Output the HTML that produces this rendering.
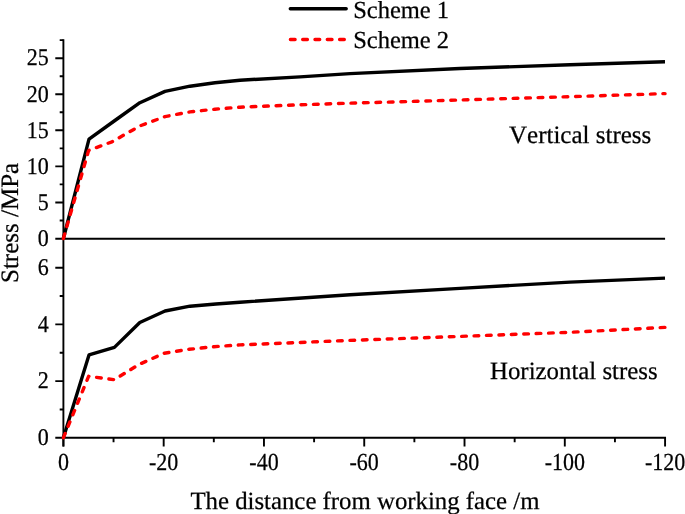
<!DOCTYPE html>
<html><head><meta charset="utf-8"><style>
html,body{margin:0;padding:0;background:#fff;}
body{width:685px;height:514px;overflow:hidden;font-family:"Liberation Serif", serif;}
svg{display:block;}
</style></head><body>
<svg width="685" height="514" viewBox="0 0 685 514">
<rect width="685" height="514" fill="#fff"/>
<path d="M63.4,39.2 V446.5 M62.449999999999996,437.8 H666.0300000000001" stroke="#000" stroke-width="1.9" fill="none"/>
<path d="M55.3,238.7 H665.08" stroke="#000" stroke-width="2.1" fill="none"/>
<path d="M55.3,202.44 H63.4 M55.3,166.38 H63.4 M55.3,130.32 H63.4 M55.3,94.26 H63.4 M55.3,58.20 H63.4 M59.7,220.47 H63.4 M59.7,184.41 H63.4 M59.7,148.35 H63.4 M59.7,112.29 H63.4 M59.7,76.23 H63.4 M59.7,40.17 H63.4 M55.3,437.80 H63.4 M55.3,381.10 H63.4 M55.3,324.40 H63.4 M55.3,267.70 H63.4 M59.7,409.45 H63.4 M59.7,352.75 H63.4 M59.7,296.05 H63.4 M63.40,437.8 V446.5 M163.68,437.8 V446.5 M263.96,437.8 V446.5 M364.24,437.8 V446.5 M464.52,437.8 V446.5 M564.80,437.8 V446.5 M665.08,437.8 V446.5 M113.54,437.8 V442.3 M213.82,437.8 V442.3 M314.10,437.8 V442.3 M414.38,437.8 V442.3 M514.66,437.8 V442.3 M614.94,437.8 V442.3" stroke="#000" stroke-width="1.9" fill="none"/>
<polyline points="63.4,238.5 89.0,139.2 114.2,121.0 139.9,102.7 165.0,91.4 190.0,86.2 215.0,82.7 240.0,80.2 300.0,76.9 350.0,73.6 460.0,68.5 570.0,64.8 665.0,61.8" stroke="#000" stroke-width="3.4" fill="none" stroke-linejoin="round"/>
<polyline points="63.4,437.8 89.0,354.9 114.4,347.4 139.8,322.5 165.0,311.0 190.0,306.2 215.9,304.0 240.0,302.2 350.0,294.7 460.0,288.4 570.0,282.1 665.0,278.1" stroke="#000" stroke-width="3.4" fill="none" stroke-linejoin="round"/>
<polyline points="63.4,238.5 88.6,150.5 112.0,141.8 139.9,125.9 165.0,116.6 190.0,111.9 215.0,109.2 240.0,107.2 300.0,104.8 350.0,103.2 460.0,100.0 570.0,96.7 665.0,93.6" stroke="#f00" stroke-width="3.4" fill="none" stroke-dasharray="4.7 7.785" stroke-linecap="round" stroke-linejoin="round"/>
<polyline points="63.4,437.8 88.6,376.3 114.2,379.7 139.2,364.4 164.0,353.3 189.0,349.3 214.0,346.7 240.0,344.9 350.0,340.4 460.0,336.4 570.0,332.3 665.0,327.4" stroke="#f00" stroke-width="3.4" fill="none" stroke-dasharray="4.7 7.72" stroke-linecap="round" stroke-linejoin="round"/>
<path d="M290.3,8.8 H346.2" stroke="#000" stroke-width="3.4" stroke-linecap="round"/>
<path d="M290.4,39.5 H345.0" stroke="#f00" stroke-width="3.4" stroke-dasharray="4.7 7.6" stroke-linecap="round"/>
<g font-family='"Liberation Serif", serif' fill="#000" stroke="#000" stroke-width="0.25" opacity="0.999" text-rendering="geometricPrecision" style="font-kerning:none"><text x="353.2" y="17.5" font-size="24.5" text-anchor="start" >Scheme 1</text><text x="353.2" y="48.4" font-size="24.5" text-anchor="start" >Scheme 2</text><text transform="translate(48.7,245.7) scale(0.917,1)" font-size="24" text-anchor="end">0</text><text transform="translate(48.7,209.6) scale(0.917,1)" font-size="24" text-anchor="end">5</text><text transform="translate(48.7,173.6) scale(0.917,1)" font-size="24" text-anchor="end">10</text><text transform="translate(48.7,137.5) scale(0.917,1)" font-size="24" text-anchor="end">15</text><text transform="translate(48.7,101.5) scale(0.917,1)" font-size="24" text-anchor="end">20</text><text transform="translate(48.7,65.4) scale(0.917,1)" font-size="24" text-anchor="end">25</text><text transform="translate(48.7,445.0) scale(0.917,1)" font-size="24" text-anchor="end">0</text><text transform="translate(48.7,388.3) scale(0.917,1)" font-size="24" text-anchor="end">2</text><text transform="translate(48.7,331.6) scale(0.917,1)" font-size="24" text-anchor="end">4</text><text transform="translate(48.7,274.9) scale(0.917,1)" font-size="24" text-anchor="end">6</text><text transform="translate(63.4,469.7) scale(0.898,1)" font-size="24.5" text-anchor="middle">0</text><text transform="translate(163.7,469.7) scale(0.898,1)" font-size="24.5" text-anchor="middle">-20</text><text transform="translate(264.0,469.7) scale(0.898,1)" font-size="24.5" text-anchor="middle">-40</text><text transform="translate(364.2,469.7) scale(0.898,1)" font-size="24.5" text-anchor="middle">-60</text><text transform="translate(464.5,469.7) scale(0.898,1)" font-size="24.5" text-anchor="middle">-80</text><text transform="translate(564.8,469.7) scale(0.898,1)" font-size="24.5" text-anchor="middle">-100</text><text transform="translate(665.1,469.7) scale(0.898,1)" font-size="24.5" text-anchor="middle">-120</text><text x="190.4" y="508.7" font-size="24.8" text-anchor="start" >The distance from working face /m</text><text x="509.0" y="142.6" font-size="25" text-anchor="start" >Vertical stress</text><text x="490.0" y="379.1" font-size="24.85" text-anchor="start" >Horizontal stress</text><text transform="translate(17.9,283.0) rotate(-90)" font-size="25">Stress /MPa</text></g>
</svg>
</body></html>
